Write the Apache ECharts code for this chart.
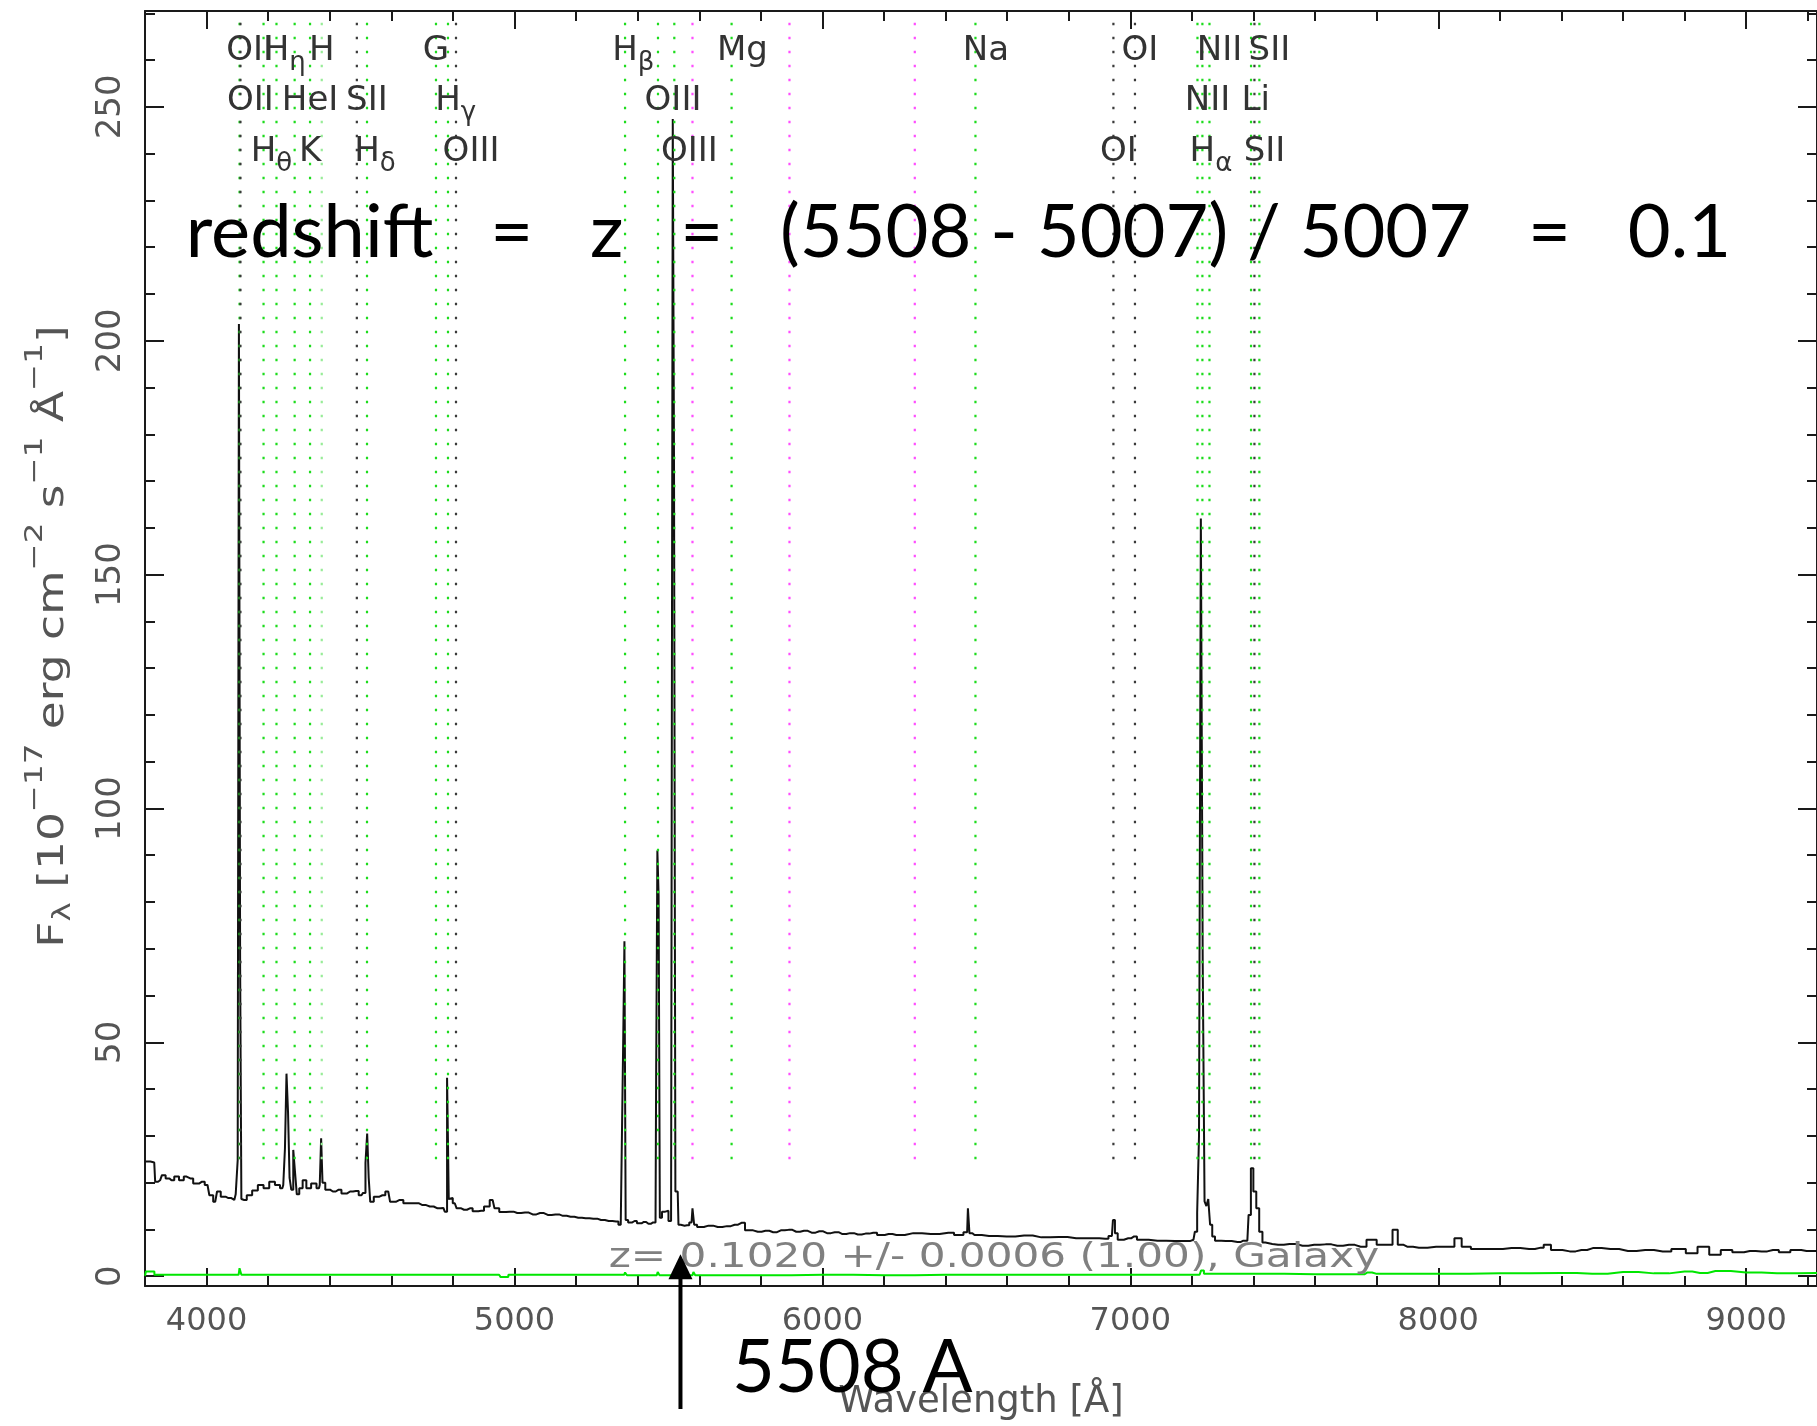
<!DOCTYPE html>
<html><head><meta charset="utf-8">
<script src="https://cdn.jsdelivr.net/npm/echarts@6/dist/echarts.min.js"></script>
<style>html,body{margin:0;padding:0;background:#fff}#c{width:1817px;height:1426px}</style>
</head><body><div id="c"></div>
<script>
// ---------- data ----------
const spectrum = [
[3800,24.5],[3805,24.5],[3830,24.3],[3836,20.2],[3849,20.5],[3861,21.6],[3873,20.9],[3886,20.5],[3904,21.3],[3917,20.5],
[3935,21.3],[3947,20.9],[3966,19.8],[3985,20.2],[4003,19.5],[4015,17.3],[4028,15.9],[4040,18.1],[4052,17.0],[4071,16.7],
[4090,16.3],[4099,17.5],[4103,24.8],[4107,203.6],[4111,65.5],[4115,16.5],[4122,16.3],[4139,17.3],[4157,18.3],[4176,19.5],
[4194,18.8],[4213,20.2],[4231,19.5],[4246,18.8],[4252,19.5],[4257,27.3],[4262,43.3],[4267,35.1],[4272,21.0],[4278,18.5],
[4285,27.0],[4290,22.0],[4296,17.5],[4306,18.8],[4318,20.5],[4330,18.8],[4349,19.8],[4365,18.8],[4370,19.5],[4374,29.5],
[4379,20.0],[4392,18.5],[4410,18.1],[4429,18.5],[4447,17.7],[4466,18.1],[4485,18.2],[4503,17.3],[4513,17.8],[4519,24.2],
[4524,30.5],[4529,21.0],[4534,15.9],[4552,17.0],[4571,17.3],[4590,18.1],[4602,15.9],[4627,16.3],[4651,15.6],[4676,15.6],
[4701,15.2],[4725,14.9],[4750,14.5],[4769,14.6],[4778,13.8],[4784,42.4],[4789,16.5],[4793,16.7],[4806,15.6],[4818,14.5],
[4836,14.2],[4855,14.5],[4873,13.9],[4892,14.0],[4910,14.9],[4929,16.3],[4941,14.5],[4960,13.7],[4985,13.8],[5009,13.5],
[5034,13.6],[5059,13.2],[5083,13.5],[5108,13.1],[5133,13.2],[5157,12.9],[5182,12.7],[5207,12.5],[5231,12.4],[5256,12.3],
[5281,12.0],[5306,11.8],[5330,11.7],[5345,11.0],[5351,11.2],[5355,50.2],[5359,71.6],[5363,12.0],[5375,11.5],[5390,11.8],
[5405,11.3],[5420,11.6],[5435,11.2],[5450,11.5],[5458,11.5],[5462,43.3],[5466,91.0],[5470,81.4],[5474,12.5],[5484,13.8],
[5495,14.0],[5505,11.8],[5512,12.0],[5516,247.4],[5520,174.4],[5525,18.1],[5530,18.1],[5535,11.0],[5545,10.8],[5560,10.9],
[5575,11.5],[5581,14.5],[5586,11.0],[5600,10.5],[5630,10.8],[5660,10.5],[5690,10.7],[5715,11.0],[5737,11.4],[5760,9.8],
[5790,9.5],[5815,9.7],[5840,9.4],[5865,9.8],[5890,9.9],[5915,9.5],[5940,9.7],[5965,9.3],[5990,9.6],[6015,9.2],
[6040,9.4],[6065,9.0],[6090,9.2],[6115,8.9],[6140,9.1],[6165,9.3],[6190,8.8],[6215,9.0],[6240,8.8],[6295,9.2],
[6352,9.0],[6409,9.3],[6446,8.8],[6470,9.4],[6475,14.5],[6480,9.2],[6494,8.8],[6541,8.6],[6598,8.5],[6655,8.7],
[6711,8.3],[6768,8.4],[6824,8.1],[6881,8.1],[6918,8.0],[6940,8.6],[6947,12.0],[6953,9.2],[6965,7.8],[6993,8.1],
[7012,8.5],[7031,7.8],[7088,7.6],[7144,7.5],[7182,7.5],[7205,7.8],[7214,9.5],[7220,13.5],[7226,30.0],[7232,162.0],
[7238,67.5],[7244,16.0],[7250,15.0],[7256,16.5],[7262,11.0],[7270,8.5],[7280,7.6],[7310,7.5],[7348,7.3],[7367,7.6],
[7380,7.6],[7388,13.1],[7395,23.1],[7404,18.1],[7414,14.5],[7423,9.5],[7435,7.2],[7442,6.9],[7480,6.7],[7517,6.9],
[7559,6.5],[7597,6.7],[7634,6.8],[7672,6.5],[7710,6.7],[7748,6.3],[7786,7.8],[7814,6.7],[7842,6.7],[7861,9.9],
[7876,6.7],[7899,6.3],[7937,6.1],[7993,6.3],[8040,6.3],[8065,8.1],[8087,6.3],[8125,5.8],[8182,5.8],[8238,6.0],
[8295,5.8],[8333,6.1],[8352,6.7],[8380,5.6],[8427,5.3],[8465,5.6],[8502,6.0],[8559,5.8],[8616,5.4],[8672,5.6],
[8729,5.3],[8785,5.8],[8823,4.9],[8861,6.3],[8899,4.6],[8936,5.6],[8974,5.1],[9012,5.4],[9050,5.3],[9087,5.6],
[9125,5.1],[9162,5.6],[9196,5.4],[9230,5.4]
];
const errorSpectrum = [
[3800,0.1],[3806,1.0],[3855,0.3],[4104,0.3],[4110,1.7],[4116,0.3],[4950,0.3],[4960,-0.2],[5000,0.3],[5356,0.3],
[5362,0.8],[5368,0.2],[5462,0.2],[5468,0.9],[5474,0.2],[5515,0.2],[5521,1.0],[5527,0.2],[5578,0.2],[5584,0.9],
[5590,0.2],[5800,0.2],[6000,0.3],[6200,0.2],[6400,0.3],[6600,0.3],[6800,0.3],[7000,0.3],[7225,0.3],[7234,1.2],
[7244,0.5],[7400,0.5],[7600,0.4],[7750,0.4],[7770,0.8],[7800,0.5],[8000,0.5],[8200,0.6],[8400,0.7],[8500,0.5],
[8600,0.9],[8700,0.6],[8800,1.0],[8850,0.7],[8900,1.1],[9000,0.8],[9100,0.6],[9230,0.7]
];
// spectral line markers (observed wavelengths)
const lineWave = [4107,4110,4185,4227,4286,4336,4374,4488,4521,4745,4784,4810,5359,5466,5519,5705,6497,6945,7015,7218,7234,7257,7392,7403,7419];
const lineName = ['OII','OII','Hθ','Hη','HeI','K','H','SII','Hδ','G','Hγ','OIII','Hβ','OIII','OIII','Mg','Na','OI','OI','NII','Hα','NII','Li','SII','SII'];
const lineRow  = [1,2,3,1,2,3,1,2,3,1,2,3,1,2,3,1,1,3,1,2,3,1,2,3,1];
const lineKind = [0,1,0,0,0,0,2,1,0,0,0,1,0,0,0,0,0,1,1,0,0,0,0,1,0];
const skyWave  = [5578,5893,6300];
// axes
const X_MIN = 3800, X_MAX = 9230, Y_MIN = -2.1, Y_MAX = 270.5;
const xMajorTicks = [4000,5000,6000,7000,8000,9000];
const xMinorTicks = [4200,4400,4600,4800,5200,5400,5600,5800,6200,6400,6600,6800,7200,7400,7600,7800,8200,8400,8600,8800,9200];
const yMajorTicks = [0,50,100,150,200,250];
const yMinorTicks = [10,20,30,40,60,70,80,90,110,120,130,140,160,170,180,190,210,220,230,240,260,270];
const xTitle = 'Wavelength [Å]';
const yTitle = '{b|F}{sub|λ}{b| [10}{sup|−17}{b| erg cm}{sup|−2}{b| s}{sup|−1}{b| Å}{sup|−1}{b|]}';
// annotations
const redshiftText = 'redshift   =   z   =   (5508 - 5007) / 5007   =   0.1';
const redshiftAnchor = [3932, 223.1];
const fitText = 'z= 0.1020 +/- 0.0006 (1.00), Galaxy';
const fitAnchor = [5306, 3.8];
const arrowWave = 5539, arrowTipFlux = 4.7, arrowTailFlux = -28.4;
const markText = '5508 A';
const markAnchor = [5706, -19.6];

// ---------- style ----------
const KIND_COLORS = ['#1ddc1d', '#3a3a3a', '#98ec98', '#ff4dff'];
const LINE_BOTTOM = 25, LINE_TOP = 268.5;
const ROW0 = 40, ROWDY = 50.5;
const FONT = 'DejaVu Sans';
const frame = {color:'#1a1a1a', width:2};

const mctx = document.createElement('canvas').getContext('2d');
mctx.font = '34px "DejaVu Sans"';
const halfFirst = s => mctx.measureText(s[0]).width / 2;

const chart = echarts.init(document.getElementById('c'), null, {renderer:'canvas'});

function xAx(pos, ticks, len, withLabel, showLine) {
  const a = {type:'value', min:X_MIN, max:X_MAX, position:pos, gridIndex:0,
    axisLine:{show:showLine, onZero:false, lineStyle:frame},
    axisTick:{show:true, inside:true, length:len, customValues:ticks, lineStyle:frame},
    axisLabel:{show:withLabel, customValues:ticks, margin:20, color:'#555', fontFamily:FONT, fontSize:32,
               formatter:v=>String(v)},
    splitLine:{show:false}};
  if (withLabel) {
    a.name = xTitle; a.nameLocation = 'middle'; a.nameGap = 98;
    a.nameTextStyle = {color:'#555', fontFamily:FONT, fontSize:37};
  }
  return a;
}
function yAx(pos, ticks, len, withLabel, showLine) {
  return {type:'value', min:Y_MIN, max:Y_MAX, position:pos, gridIndex:0,
    axisLine:{show:showLine, onZero:false, lineStyle:frame},
    axisTick:{show:true, inside:true, length:len, customValues:ticks, lineStyle:frame},
    axisLabel:{show:withLabel, customValues:ticks, rotate:90, margin:17, color:'#555', fontFamily:FONT, fontSize:34,
               formatter:v=>String(v)},
    splitLine:{show:false}};
}

const markerData = lineWave.map((w,i)=>[w, lineKind[i]]).concat(skyWave.map(w=>[w,3]));

const option = {
  animation:false,
  backgroundColor:'#fff',
  textStyle:{fontFamily:FONT},
  grid:{left:145, top:11, right:-11, bottom:138, containLabel:false},
  xAxis:[xAx('bottom', xMajorTicks, 18, true, true), xAx('bottom', xMinorTicks, 10, false, false),
         xAx('top', xMajorTicks, 18, false, true), xAx('top', xMinorTicks, 10, false, false)],
  yAxis:[yAx('left', yMajorTicks, 19, true, true), yAx('left', yMinorTicks, 10, false, false),
         yAx('right', yMajorTicks, 19, false, true), yAx('right', yMinorTicks, 10, false, false)],
  series:[
    {type:'line', name:'flux', xAxisIndex:0, yAxisIndex:0, data:spectrum, step:'middle', symbol:'none',
     lineStyle:{color:'#111', width:2}, z:2, silent:true},
    {type:'line', name:'error', xAxisIndex:0, yAxisIndex:0, data:errorSpectrum, step:'middle', symbol:'none',
     lineStyle:{color:'#00e600', width:2}, z:4, silent:true},
    {type:'custom', name:'lines', xAxisIndex:0, yAxisIndex:0, data:markerData, z:3, silent:true,
     renderItem:(params, api)=>{
       const w = api.value(0), k = api.value(1);
       const p1 = api.coord([w, LINE_BOTTOM]), p2 = api.coord([w, LINE_TOP]);
       return {type:'line', shape:{x1:p1[0], y1:p1[1], x2:p2[0], y2:p2[1]},
               style:{stroke:KIND_COLORS[k], lineWidth:2.2, lineDash:[2.5,11.5]}};
     }},
    {type:'custom', name:'labels', xAxisIndex:0, yAxisIndex:0, data:lineWave.map((w,i)=>[w,i]), z:5, silent:true,
     renderItem:(params, api)=>{
       const i = api.value(1), name = lineName[i];
       const x = api.coord([api.value(0), 0])[0] - halfFirst(name);
       const yc = params.coordSys.y + ROW0 + (lineRow[i]-1)*ROWDY;
       const rest = name.slice(1);
       const greek = /^[α-ω]$/.test(rest);
       const txt = greek ? '{b|' + name[0] + '}{s|' + rest + '}' : '{b|' + name + '}';
       return {type:'text', x:x, y:yc-17, style:{text:txt, align:'left', verticalAlign:'top', fill:'#333',
         rich:{b:{fontSize:34, lineHeight:34, verticalAlign:'top', fontFamily:FONT, fill:'#333'},
               s:{fontSize:26, lineHeight:26, padding:[16,0,0,0], verticalAlign:'top', fontFamily:FONT, fill:'#333'}}}};
     }}
  ]
};
chart.setOption(option);

const px = p => chart.convertToPixel({xAxisIndex:0, yAxisIndex:0}, p);
const rs = px(redshiftAnchor), ft = px(fitAnchor), mk = px(markAnchor);
const aTip = px([arrowWave, arrowTipFlux]), aTail = px([arrowWave, arrowTailFlux]);
const gridRect = chart.getModel().getComponent('grid', 0).coordinateSystem.getRect();
chart.setOption({graphic:[
  {type:'text', x:gridRect.x - 105, y:gridRect.y + gridRect.height/2 - 12, rotation:Math.PI/2, scaleX:1.3, z:50, silent:true,
   style:{text:yTitle, align:'center', verticalAlign:'middle', fill:'#555', fontFamily:FONT, fontSize:35,
     rich:{
      b:{fontSize:35, lineHeight:35, padding:[14,0,0,0], verticalAlign:'top', fill:'#555', fontFamily:FONT},
      sup:{fontSize:25, lineHeight:25, verticalAlign:'top', fill:'#555', fontFamily:FONT},
      sub:{fontSize:25, lineHeight:25, padding:[28,0,0,0], verticalAlign:'top', fill:'#555', fontFamily:FONT}}}},
  {type:'text', x:rs[0], y:rs[1], z:100, silent:true,
   style:{text:redshiftText, fontFamily:'Lato', fontSize:74, fill:'#000', align:'left', verticalAlign:'middle'}},
  {type:'text', x:ft[0], y:ft[1], z:100, scaleX:1.24, silent:true,
   style:{text:fitText, fontFamily:FONT, fontSize:34, fill:'#808080', align:'left', verticalAlign:'middle'}},
  {type:'text', x:mk[0], y:mk[1], z:100, silent:true,
   style:{text:markText, fontFamily:'Lato', fontSize:74, fill:'#000', align:'left', verticalAlign:'middle'}},
  {type:'line', z:100, silent:true, shape:{x1:aTail[0], y1:aTail[1], x2:aTip[0], y2:aTip[1]+20},
   style:{stroke:'#000', lineWidth:4}},
  {type:'polygon', z:100, silent:true, shape:{points:[[aTip[0], aTip[1]], [aTip[0]-12, aTip[1]+25], [aTip[0]+12, aTip[1]+25]]},
   style:{fill:'#000'}}
]});
</script>
</body></html>
